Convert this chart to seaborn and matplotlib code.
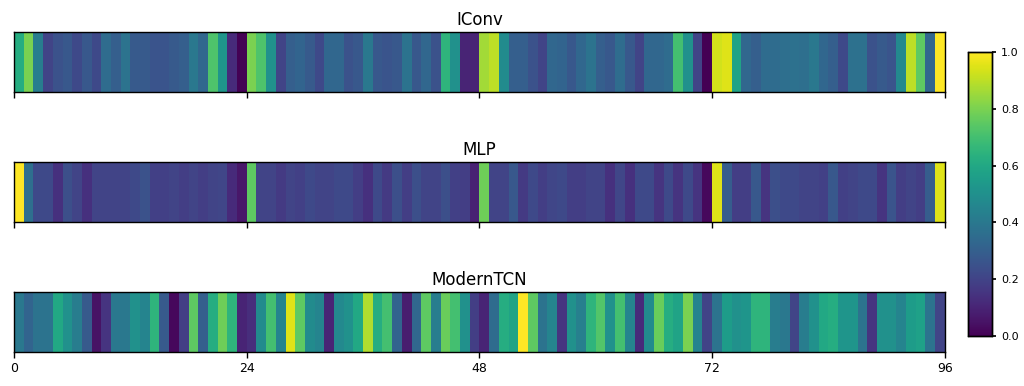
import numpy as np
import seaborn as sns
import matplotlib.pyplot as plt

TITLES = ["IConv", "MLP", "ModernTCN"]
XTICKS = [0, 24, 48, 72, 96]

ICONV = [
    0.62, 0.80, 0.42, 0.20, 0.25, 0.27, 0.22, 0.27, 0.22, 0.35, 0.30, 0.38,
    0.28, 0.28, 0.26, 0.26, 0.28, 0.30, 0.40, 0.33, 0.72, 0.52, 0.12, 0.00,
    0.80, 0.72, 0.50, 0.20, 0.30, 0.32, 0.28, 0.22, 0.33, 0.33, 0.25, 0.27,
    0.40, 0.27, 0.26, 0.27, 0.38, 0.27, 0.33, 0.25, 0.65, 0.50, 0.10, 0.10,
    0.86, 0.90, 0.48, 0.30, 0.30, 0.25, 0.20, 0.33, 0.32, 0.27, 0.33, 0.38,
    0.30, 0.27, 0.35, 0.27, 0.20, 0.33, 0.33, 0.35, 0.70, 0.50, 0.20, 0.00,
    0.93, 0.95, 0.58, 0.33, 0.30, 0.35, 0.35, 0.36, 0.37, 0.36, 0.40, 0.33,
    0.30, 0.22, 0.37, 0.37, 0.25, 0.28, 0.26, 0.47, 0.90, 0.75, 0.33, 1.00,
]

MLP = [
    1.00, 0.36, 0.22, 0.22, 0.14, 0.24, 0.20, 0.14, 0.20, 0.20, 0.20, 0.20,
    0.22, 0.25, 0.19, 0.19, 0.20, 0.18, 0.20, 0.18, 0.20, 0.21, 0.12, 0.06,
    0.75, 0.20, 0.20, 0.17, 0.20, 0.19, 0.22, 0.20, 0.20, 0.22, 0.22, 0.18,
    0.14, 0.22, 0.17, 0.24, 0.18, 0.24, 0.20, 0.20, 0.24, 0.19, 0.18, 0.09,
    0.78, 0.20, 0.20, 0.27, 0.17, 0.22, 0.18, 0.21, 0.22, 0.18, 0.18, 0.20,
    0.20, 0.14, 0.21, 0.14, 0.22, 0.22, 0.15, 0.22, 0.15, 0.22, 0.15, 0.02,
    0.95, 0.29, 0.18, 0.18, 0.27, 0.15, 0.24, 0.22, 0.22, 0.20, 0.20, 0.19,
    0.27, 0.19, 0.20, 0.22, 0.22, 0.15, 0.26, 0.18, 0.20, 0.18, 0.29, 0.95,
]

MODERNTCN = [
    0.40, 0.32, 0.38, 0.38, 0.60, 0.50, 0.42, 0.28, 0.05, 0.15, 0.40, 0.40,
    0.50, 0.45, 0.65, 0.28, 0.02, 0.18, 0.75, 0.30, 0.62, 0.78, 0.65, 0.10,
    0.13, 0.48, 0.70, 0.45, 0.95, 0.75, 0.48, 0.45, 0.10, 0.47, 0.50, 0.60,
    0.88, 0.62, 0.70, 0.32, 0.08, 0.33, 0.75, 0.42, 0.77, 0.70, 0.50, 0.18,
    0.10, 0.35, 0.62, 0.58, 1.00, 0.75, 0.38, 0.45, 0.15, 0.50, 0.43, 0.65,
    0.73, 0.50, 0.70, 0.45, 0.12, 0.48, 0.77, 0.62, 0.58, 0.80, 0.45, 0.20,
    0.38, 0.55, 0.50, 0.52, 0.65, 0.65, 0.42, 0.40, 0.20, 0.42, 0.50, 0.60,
    0.62, 0.52, 0.52, 0.38, 0.15, 0.50, 0.50, 0.45, 0.55, 0.57, 0.38, 0.20,
]


def main() -> None:
    sns.set_theme(style="white")
    plt.rcParams["font.family"] = ["DejaVu Sans"]
    plt.rcParams["text.color"] = "black"
    plt.rcParams["xtick.color"] = "black"
    plt.rcParams["ytick.color"] = "black"
    plt.rcParams["axes.titlecolor"] = "black"

    fig = plt.figure(figsize=(10.24, 3.86), dpi=100)
    bottoms = [0.7617, 0.4249, 0.0881]
    axes = [fig.add_axes([0.0137, b, 0.909, 0.1554]) for b in bottoms]
    cax = fig.add_axes([0.9453, 0.1295, 0.0234, 0.7358])

    for i, (ax, title, vals) in enumerate(zip(axes, TITLES, [ICONV, MLP, MODERNTCN])):
        sns.heatmap(
            np.array([vals]),
            ax=ax,
            cmap="viridis",
            vmin=0,
            vmax=1,
            cbar=(i == 0),
            cbar_ax=cax if i == 0 else None,
        )
        ax.set_title(title, fontsize=12, pad=5, color="black")
        ax.set_yticks([])
        ax.set_xticks(XTICKS)
        ax.set_xticklabels(XTICKS if i == 2 else [], rotation=0, fontsize=9, color="black")
        ax.tick_params(axis="x", length=4, width=1, direction="out", bottom=True, color="black")
        for spine in ax.spines.values():
            spine.set_visible(True)
            spine.set_color("black")
            spine.set_linewidth(1)

    cax.set_yticks([0, 0.2, 0.4, 0.6, 0.8, 1.0])
    cax.tick_params(labelsize=8, length=3, color="black", labelcolor="black")
    for spine in cax.spines.values():
        spine.set_visible(True)
        spine.set_color("black")
        spine.set_linewidth(1)

    fig.savefig("out.png", dpi=100)


if __name__ == "__main__":
    main()
